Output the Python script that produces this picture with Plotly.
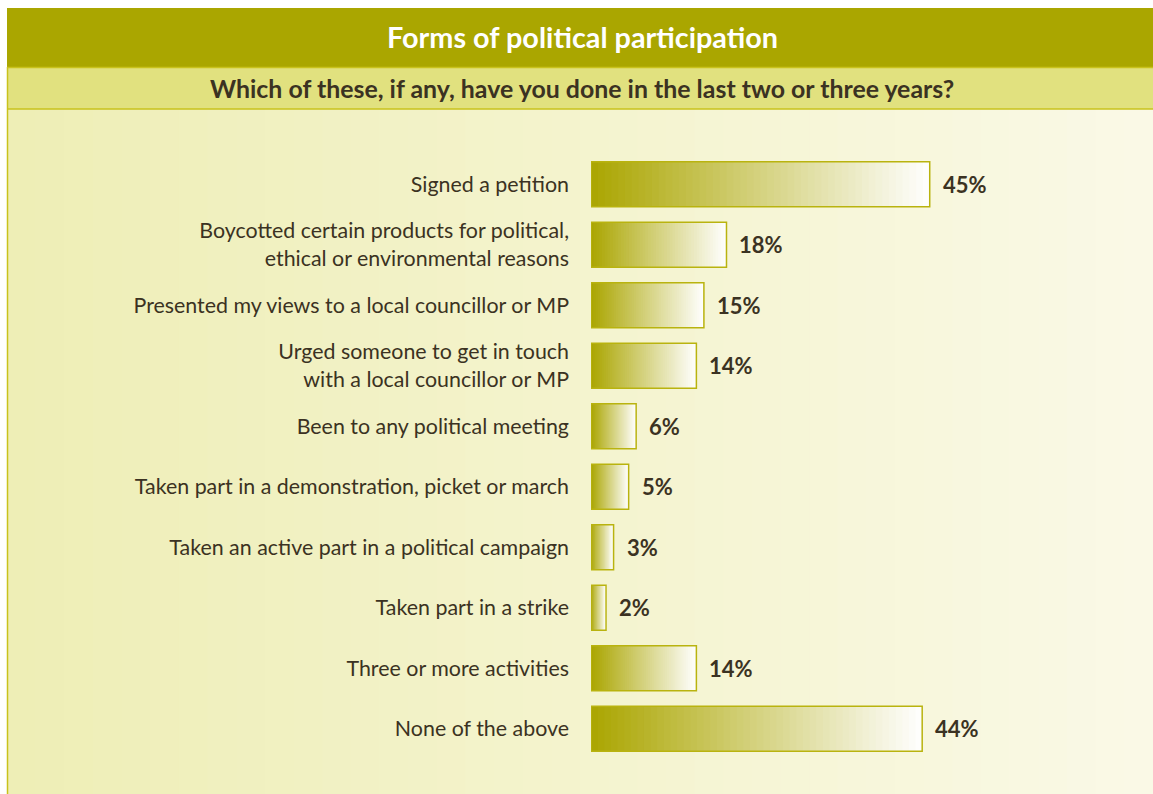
import plotly.graph_objects as go

categories = [
    "Signed a petition",
    "Boycotted certain products for political,<br>ethical or environmental reasons",
    "Presented my views to a local councillor or MP",
    "Urged someone to get in touch<br>with a local councillor or MP",
    "Been to any political meeting",
    "Taken part in a demonstration, picket or march",
    "Taken an active part in a political campaign",
    "Taken part in a strike",
    "Three or more activities",
    "None of the above",
]
values = [45, 18, 15, 14, 6, 5, 3, 2, 14, 44]
value_labels = [f"{v}%" for v in values]

title = "Forms of political participation"
subtitle = "Which of these, if any, have you done in the last two or three years?"

W, H = 1153, 794
ML, MR, MT, MB = 591, 5, 154, 35
PW, PH = W - ML - MR, H - MT - MB

def px(x):
    return (x - ML) / PW

def py(y):
    return 1 - (y - MT) / PH

def lerp(c1, c2, t):
    return "rgb(%d,%d,%d)" % tuple(round(a + (b - a) * t) for a, b in zip(c1, c2))

OLIVE = (170, 165, 0)
WHITE = (255, 255, 255)
TEXT = "#3b3222"
FONT = "Lato"

fig = go.Figure()

# gradient bars built from overlapping slices of each value
N = 50
for k in range(N):
    t = (k + 0.5) / N
    bases = [v * k / N for v in values]
    widths = [min(3 * v / N, v - b) for v, b in zip(values, bases)]
    fig.add_trace(go.Bar(
        y=categories,
        x=widths,
        base=bases,
        orientation="h",
        width=0.74,
        marker=dict(color=lerp(OLIVE, WHITE, t), line=dict(width=0)),
        hoverinfo="skip",
        showlegend=False,
    ))

# outline
fig.add_trace(go.Bar(
    y=categories,
    x=values,
    orientation="h",
    width=0.74,
    marker=dict(color="rgba(0,0,0,0)", line=dict(color="#b9b30f", width=1.5)),
    hoverinfo="skip",
    showlegend=False,
))

shapes = []
# body gradient
S = 40
x0, x1 = 7, W
for i in range(S):
    a = x0 + (x1 - x0) * i / S
    b = x0 + (x1 - x0) * (i + 1) / S + 1
    shapes.append(dict(type="rect", xref="paper", yref="paper",
                       x0=px(a), x1=px(b), y0=py(109), y1=py(H + 2),
                       fillcolor=lerp((238, 238, 182), (250, 249, 230), i / (S - 1)),
                       line=dict(width=0), layer="below"))
# title bar
shapes.append(dict(type="rect", xref="paper", yref="paper",
                   x0=px(7), x1=px(W + 2), y0=py(8), y1=py(67),
                   fillcolor="#aaa600", line=dict(width=0), layer="below"))
# subtitle band
shapes.append(dict(type="rect", xref="paper", yref="paper",
                   x0=px(7), x1=px(W + 2), y0=py(67), y1=py(109),
                   fillcolor="#e1e17f", line=dict(width=0), layer="below"))
# separator lines
for yy in (67.5, 109):
    shapes.append(dict(type="line", xref="paper", yref="paper",
                       x0=px(7), x1=px(W + 2), y0=py(yy), y1=py(yy),
                       line=dict(color="#c9c21c", width=1.5), layer="below"))
shapes.append(dict(type="line", xref="paper", yref="paper",
                   x0=px(7.5), x1=px(7.5), y0=py(67), y1=py(H + 2),
                   line=dict(color="#c9c21c", width=1.5), layer="below"))

annotations = [
    dict(text=f"<b>{title}</b>", xref="paper", yref="paper",
         x=px(582), y=py(37), showarrow=False, xanchor="center", yanchor="middle",
         font=dict(family=FONT, size=28.8, color="white")),
    dict(text=f"<b>{subtitle}</b>", xref="paper", yref="paper",
         x=px(582), y=py(87.5), showarrow=False, xanchor="center", yanchor="middle",
         font=dict(family=FONT, size=24.9, color=TEXT)),
]
for cat, v, lab in zip(categories, values, value_labels):
    annotations.append(dict(text=f"<b>{lab}</b>", x=v, y=cat, xref="x", yref="y",
                            showarrow=False, xanchor="left", yanchor="middle",
                            xshift=11, font=dict(family=FONT, size=22, color=TEXT)))

fig.update_layout(
    width=W, height=H,
    margin=dict(l=ML, r=MR, t=MT, b=MB, pad=0),
    paper_bgcolor="white",
    plot_bgcolor="rgba(0,0,0,0)",
    barmode="overlay",
    shapes=shapes,
    annotations=annotations,
    xaxis=dict(range=[0, 74], visible=False, fixedrange=True),
    yaxis=dict(type="category", categoryorder="array", categoryarray=categories,
               autorange=False, range=[9.5, -0.5],
               showgrid=False, zeroline=False, showline=False,
               ticks="", ticklabelstandoff=21,
               tickfont=dict(family=FONT, size=21.4, color=TEXT)),
)

fig.write_html("out.html")
